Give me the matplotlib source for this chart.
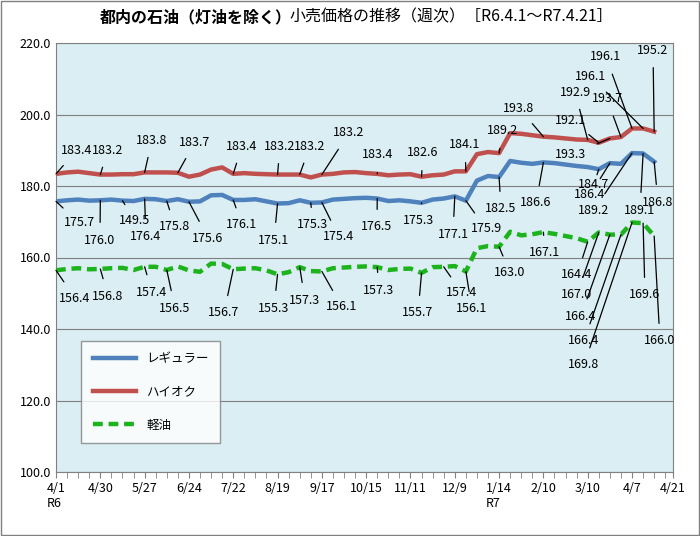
import numpy as np
import matplotlib
matplotlib.use("Agg")
import matplotlib.pyplot as plt
from matplotlib.lines import Line2D

plt.rcParams["font.family"] = ["Noto Sans CJK JP", "DejaVu Sans"]

# 週次データ（R6.4.1～R7.4.21）
regular = [175.7, 176.0, 176.2, 175.9, 176.0, 176.2, 175.9, 175.8, 176.4, 176.3,
           175.8, 176.3, 175.6, 175.7, 177.4, 177.5, 176.1, 176.1, 176.3, 175.7,
           175.1, 175.2, 176.0, 175.3, 175.4, 176.2, 176.4, 176.6, 176.7, 176.5,
           175.8, 176.0, 175.7, 175.3, 176.2, 176.5, 177.1, 175.9, 181.5, 182.8,
           182.5, 187.0, 186.5, 186.2, 186.6, 186.4, 186.0, 185.6, 185.3, 184.7,
           186.4, 186.2, 189.2, 189.1, 186.8]
highoc = [183.4, 183.8, 184.0, 183.6, 183.2, 183.2, 183.3, 183.3, 183.8, 183.8,
          183.8, 183.7, 182.6, 183.2, 184.6, 185.2, 183.4, 183.6, 183.4, 183.3,
          183.2, 183.2, 183.2, 182.4, 183.2, 183.4, 183.8, 183.9, 183.6, 183.4,
          183.0, 183.2, 183.3, 182.6, 183.0, 183.2, 184.1, 184.1, 188.9, 189.5,
          189.2, 194.8, 194.6, 194.2, 193.8, 193.6, 193.3, 193.0, 192.9, 192.1,
          193.3, 193.7, 196.1, 196.1, 195.2]
diesel = [156.4, 156.8, 157.0, 156.7, 156.8, 157.0, 157.1, 156.5, 157.4, 157.4,
          156.5, 157.5, 156.4, 156.0, 158.3, 158.2, 156.7, 156.9, 157.0, 156.4,
          155.3, 155.9, 157.3, 156.2, 156.1, 157.0, 157.2, 157.4, 157.5, 157.3,
          156.5, 156.8, 156.9, 155.7, 157.3, 157.4, 157.6, 156.1, 162.6, 163.2,
          163.0, 167.2, 166.2, 166.5, 167.1, 166.6, 166.0, 165.4, 164.4, 167.0,
          166.4, 166.4, 169.8, 169.6, 166.0]

tick_labels = ["4/1\nR6", "4/30", "5/27", "6/24", "7/22", "8/19", "9/17", "10/15",
               "11/11", "12/9", "1/14\nR7", "2/10", "3/10", "4/7", "4/21"]

# ラベル: (系列, 週index, 表示文字, 文字位置px(x, y上から))
labels = [
    ("h", 0, "183.4", 77, 150), ("h", 4, "183.2", 108, 150), ("h", 8, "183.8", 152, 140),
    ("h", 11, "183.7", 195, 142), ("h", 16, "183.4", 242, 146), ("h", 20, "183.2", 280, 146),
    ("h", 22, "183.2", 310, 146), ("h", 24, "183.2", 349, 133), ("h", 29, "183.4", 378, 155),
    ("h", 33, "182.6", 423, 153), ("h", 37, "184.1", 465, 145), ("h", 40, "189.2", 503, 131),
    ("h", 44, "193.8", 519, 108), ("h", 50, "193.3", 571, 155), ("h", 49, "192.1", 571, 120),
    ("h", 48, "192.9", 575, 92), ("h", 52, "196.1", 606, 57), ("h", 53, "196.1", 591, 77),
    ("h", 51, "193.7", 607, 99), ("h", 54, "195.2", 653, 50),
    ("r", 0, "175.7", 79, 223), ("r", 4, "176.0", 100, 240), ("r", 6, "149.5", 135, 221),
    ("r", 8, "176.4", 146, 236), ("r", 10, "175.8", 175, 227), ("r", 12, "175.6", 208, 238),
    ("r", 16, "176.1", 242, 225), ("r", 20, "175.1", 274, 240), ("r", 23, "175.3", 313, 225),
    ("r", 24, "175.4", 339, 237), ("r", 29, "176.5", 377, 227), ("r", 33, "175.3", 419, 221),
    ("r", 36, "177.1", 453, 234), ("r", 37, "175.9", 486, 229), ("r", 40, "182.5", 501, 209),
    ("r", 44, "186.6", 536, 203), ("r", 49, "184.7", 594, 184), ("r", 50, "186.4", 590, 195),
    ("r", 52, "189.2", 594, 210), ("r", 53, "189.1", 640, 210), ("r", 54, "186.8", 658, 202),
    ("d", 0, "156.4", 75, 298), ("d", 4, "156.8", 108, 296), ("d", 8, "157.4", 152, 292),
    ("d", 10, "156.5", 175, 308), ("d", 16, "156.7", 224, 313), ("d", 20, "155.3", 274, 308),
    ("d", 22, "157.3", 305, 300), ("d", 24, "156.1", 342, 307), ("d", 29, "157.3", 379, 290),
    ("d", 33, "155.7", 418, 313), ("d", 35, "157.4", 462, 293), ("d", 37, "156.1", 472, 309),
    ("d", 40, "163.0", 510, 273), ("d", 44, "167.1", 545, 253), ("d", 48, "164.4", 577, 275),
    ("d", 49, "167.0", 577, 294), ("d", 50, "166.4", 581, 316), ("d", 51, "166.4", 584, 341),
    ("d", 52, "169.8", 584, 365), ("d", 53, "169.6", 645, 295), ("d", 54, "166.0", 660, 341),
]

W, H = 700, 536
fig = plt.figure(figsize=(W / 100, H / 100), dpi=100)
ax = fig.add_axes([56 / W, 64 / H, 617 / W, 429 / H])
ax.set_facecolor("#DAEEF3")

x = np.arange(len(regular))
series = {"r": regular, "h": highoc, "d": diesel}
ax.plot(x, highoc, color="#C0504D", lw=3.2, zorder=3)
ax.plot(x, regular, color="#4F81BD", lw=3.2, zorder=3)
ax.plot(x, diesel, color="#1DB31D", lw=3.2, ls=(0, (2.2, 1.3)), zorder=3)

xmax = 55.7
ax.set_xlim(0, xmax)
ax.set_ylim(100, 220)
ax.set_yticks(np.arange(100, 221, 20))
ax.set_yticklabels([f"{v:.1f}" for v in np.arange(100, 221, 20)], fontsize=9)
ax.yaxis.grid(True, color="#808080", lw=0.8)
ax.set_axisbelow(True)
ax.set_xticks(list(range(0, 53, 4)) + [xmax])
ax.set_xticklabels(tick_labels, fontsize=9, ha="center", va="top")
for t in ax.get_xticklabels()[:1] + ax.get_xticklabels()[10:11]:
    t.set_multialignment("left")
ax.set_xticks(np.arange(0, 56, 1), minor=True)
ax.tick_params(axis="x", which="both", direction="out", length=4, color="#808080")
ax.tick_params(axis="y", length=0)
for s in ax.spines.values():
    s.set_color("#808080")

for key, idx, txt, px, py in labels:
    ax.annotate(txt, xy=(x[idx], series[key][idx]), xycoords="data",
                xytext=(px, H - py), textcoords="figure pixels",
                fontsize=9, ha="center", va="center",
                arrowprops=dict(arrowstyle="-", color="black", lw=0.9,
                                shrinkA=6, shrinkB=0), zorder=4)

handles = [Line2D([0], [0], color="#4F81BD", lw=3.2),
           Line2D([0], [0], color="#C0504D", lw=3.2),
           Line2D([0], [0], color="#1DB31D", lw=3.2, ls=(0, (2.2, 1.3)))]
leg = ax.legend(handles, ["レギュラー", "ハイオク", "軽油"], loc="upper left",
                bbox_to_anchor=(19 / 617, 137 / 429), fontsize=9, frameon=True,
                fancybox=False, edgecolor="#808080", labelspacing=1.6,
                handlelength=3.5, borderpad=0.9)
leg.get_frame().set_facecolor("white")
leg.set_zorder(5)

fig.text(100 / W, 1 - 17 / H, "都内の石油（灯油を除く）", fontsize=11.5,
         fontweight="bold", color="black", va="center")
fig.text(290 / W, 1 - 17 / H, "小売価格の推移（週次）［R6.4.1～R7.4.21］",
         fontsize=11.5, va="center")
fig.patches.append(plt.Rectangle((0.002, 0.002), 0.996, 0.996, transform=fig.transFigure,
                                 fill=False, edgecolor="#808080", lw=1))

fig.savefig("out.png", dpi=100)
